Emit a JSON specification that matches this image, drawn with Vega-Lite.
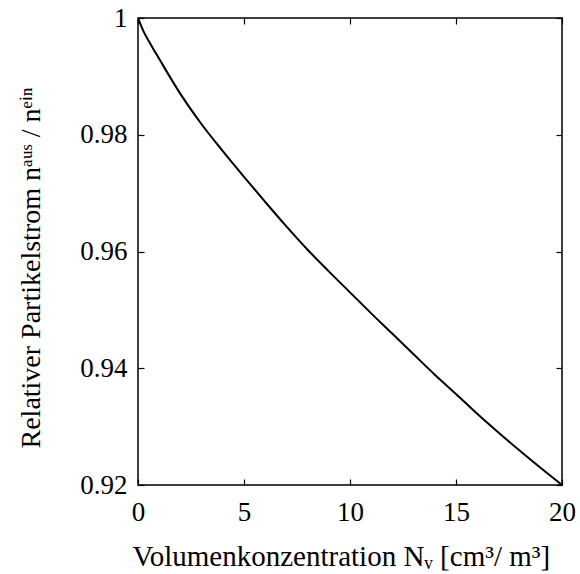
{
  "$schema": "https://vega.github.io/schema/vega-lite/v6.json",
  "width": 424,
  "height": 467,
  "autosize": "none",
  "padding": {"left": 138, "top": 18, "right": 18, "bottom": 89},
  "background": "white",
  "config": {
    "view": {"stroke": "black", "strokeWidth": 1.5},
    "font": "Liberation Serif",
    "axis": {
      "domain": false,
      "grid": false,
      "tickColor": "black",
      "tickSize": -6,
      "tickWidth": 1.2,
      "labelFont": "Liberation Serif",
      "labelFontSize": 27,
      "labelColor": "black",
      "labelFlush": false,
      "labelOverlap": false,
      "titleFont": "Liberation Serif",
      "titleFontSize": 28,
      "titleFontWeight": "normal",
      "titleColor": "black"
    }
  },
  "data": {
    "values": [
      {"x": 0, "y": 1.0},
      {"x": 0.25, "y": 0.9978},
      {"x": 0.5, "y": 0.9961},
      {"x": 1, "y": 0.9930},
      {"x": 2, "y": 0.9870},
      {"x": 3, "y": 0.9818},
      {"x": 4, "y": 0.9772},
      {"x": 5, "y": 0.9728},
      {"x": 6, "y": 0.9685},
      {"x": 7, "y": 0.9643},
      {"x": 8, "y": 0.9603},
      {"x": 9, "y": 0.9566},
      {"x": 10, "y": 0.9530},
      {"x": 11, "y": 0.9494},
      {"x": 12, "y": 0.9459},
      {"x": 13, "y": 0.9424},
      {"x": 14, "y": 0.9389},
      {"x": 15, "y": 0.9356},
      {"x": 16, "y": 0.9322},
      {"x": 17, "y": 0.9290},
      {"x": 18, "y": 0.9259},
      {"x": 19, "y": 0.9229},
      {"x": 20, "y": 0.9200}
    ]
  },
  "layer": [
    {
      "mark": {"type": "line", "color": "black", "strokeWidth": 2, "clip": true, "interpolate": "monotone"},
      "encoding": {
        "x": {
          "field": "x", "type": "quantitative",
          "scale": {"domain": [0, 20], "nice": false, "zero": false},
          "axis": {
            "orient": "bottom",
            "values": [0, 5, 10, 15, 20],
            "labelPadding": 20,
            "title": "Volumenkonzentration Nᵥ [cm³/ m³]",
            "titleFontSize": 29,
            "titleBaseline": "alphabetic",
            "titleAnchor": "start",
            "titleAlign": "left",
            "titleY": 80,
            "titleX": -6
          }
        },
        "y": {
          "field": "y", "type": "quantitative",
          "scale": {"domain": [0.92, 1.0], "nice": false, "zero": false},
          "axis": {
            "orient": "left",
            "values": [0.92, 0.94, 0.96, 0.98, 1.0],
            "labelExpr": "datum.value == 1 ? '1' : format(datum.value, '.2f')",
            "labelPadding": 17,
            "title": "Relativer Partikelstrom  nᵃᵘˢ / nᵉⁱⁿ",
            "titleBaseline": "alphabetic",
            "titleAngle": -90,
            "titleAnchor": "start",
            "titleAlign": "left",
            "titleX": -99,
            "titleY": 430
          }
        }
      }
    },
    {
      "mark": {"type": "line", "opacity": 0},
      "encoding": {
        "x": {
          "field": "x", "type": "quantitative",
          "scale": {"domain": [0, 20], "nice": false, "zero": false},
          "axis": {"orient": "top", "values": [0, 5, 10, 15, 20], "labels": false, "title": null}
        },
        "y": {
          "field": "y", "type": "quantitative",
          "scale": {"domain": [0.92, 1.0], "nice": false, "zero": false},
          "axis": {"orient": "right", "values": [0.92, 0.94, 0.96, 0.98, 1.0], "labels": false, "title": null}
        }
      }
    }
  ],
  "resolve": {"axis": {"x": "independent", "y": "independent"}}
}
